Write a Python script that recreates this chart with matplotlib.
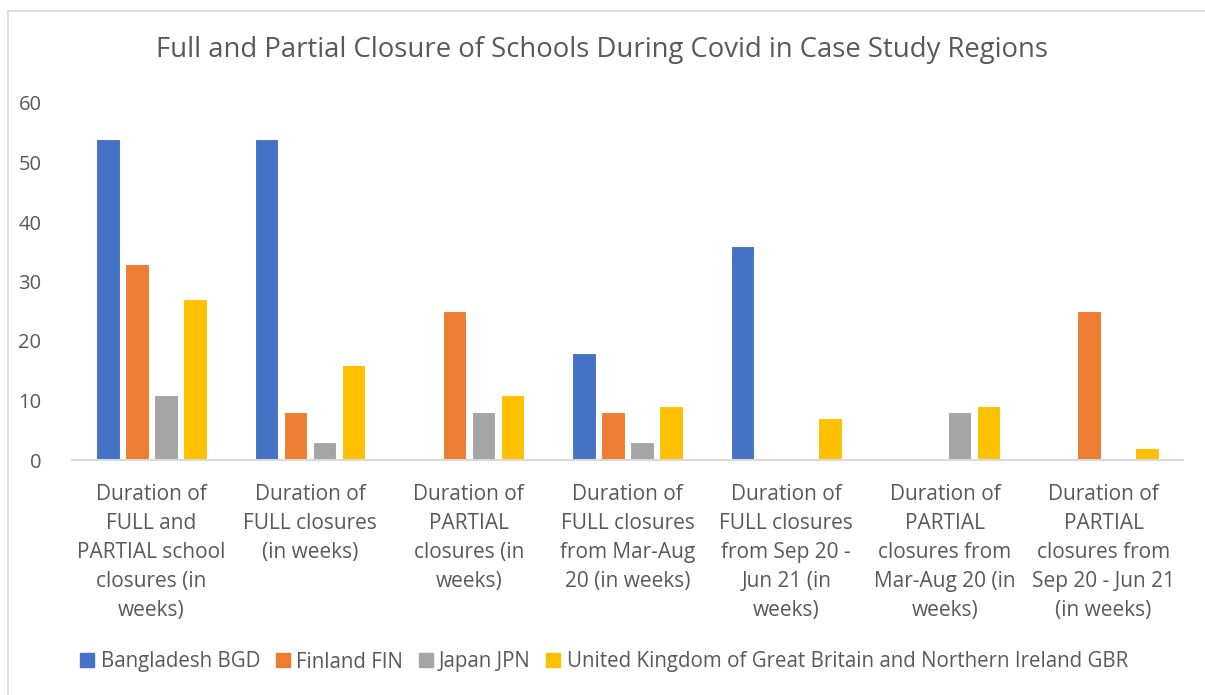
import numpy as np
import matplotlib
matplotlib.use("Agg")
import matplotlib.pyplot as plt
from matplotlib.lines import Line2D

plt.rcParams['font.family'] = ['Open Sans', 'DejaVu Sans']

# data
categories = [
    "Duration of\nFULL and\nPARTIAL school\nclosures (in\nweeks)",
    "Duration of\nFULL closures\n(in weeks)",
    "Duration of\nPARTIAL\nclosures (in\nweeks)",
    "Duration of\nFULL closures\nfrom Mar-Aug\n20 (in weeks)",
    "Duration of\nFULL closures\nfrom Sep 20 -\nJun 21 (in\nweeks)",
    "Duration of\nPARTIAL\nclosures from\nMar-Aug 20 (in\nweeks)",
    "Duration of\nPARTIAL\nclosures from\nSep 20 - Jun 21\n(in weeks)",
]
series_names = ["Bangladesh BGD", "Finland FIN", "Japan JPN",
                "United Kingdom of Great Britain and Northern Ireland GBR"]
bgd = [54, 54, 0, 18, 36, 0, 0]
fin = [33, 8, 25, 8, 0, 0, 25]
jpn = [11, 3, 8, 3, 0, 8, 0]
gbr = [27, 16, 11, 9, 7, 9, 2]
colors = ["#4472C4", "#ED7D31", "#A5A5A5", "#FFC000"]

W, H = 1205, 695
fig = plt.figure(figsize=(W / 100, H / 100), dpi=100)
ax = fig.add_axes([72 / W, 1 - 460 / H, (1183 - 72) / W, (460 - 103) / H])

x = np.arange(len(categories))
pitch = 0.183
width = 0.148
for i, (vals, c) in enumerate(zip([bgd, fin, jpn, gbr], colors)):
    ax.bar(x + (i - 1.5) * pitch, vals, width, color=c,
           edgecolor="white", linewidth=0.8, zorder=2)

ax.set_xlim(-0.5, len(categories) - 0.5)
ax.set_ylim(0, 60)
ax.set_yticks(range(0, 61, 10))
ax.tick_params(axis="y", length=0, labelsize=14.5, labelcolor="#595959", pad=22)
ax.tick_params(axis="x", length=0)
ax.set_xticks(x)
ax.set_xticklabels([])
for s in ["top", "right", "left"]:
    ax.spines[s].set_visible(False)
ax.spines["bottom"].set_color("#D9D9D9")
ax.spines["bottom"].set_linewidth(1.5)

# category labels
for xi, lab in zip(x, categories):
    ax.annotate(lab, (xi, 0), xycoords=("data", "axes fraction"),
                xytext=(0, -24), textcoords="offset pixels",
                ha="center", va="top", fontsize=15, color="#595959",
                linespacing=1.5)

fig.text(0.5, 1 - 50 / H,
         "Full and Partial Closure of Schools During Covid in Case Study Regions",
         ha="center", va="center", fontsize=19.8, color="#595959")

handles = [Line2D([], [], marker="s", linestyle="none", markersize=10,
                  markerfacecolor=c, markeredgecolor=c) for c in colors]
fig.legend(handles, series_names, loc="center", bbox_to_anchor=(0.5, 1 - 662 / H),
           ncol=4, frameon=False, fontsize=14.8, labelcolor="#595959",
           handletextpad=0.15, columnspacing=0.6, handlelength=1.0)

# chart border (top and left visible)
fig.add_artist(Line2D([8 / W, 8 / W], [0, 1 - 11 / H], transform=fig.transFigure,
                      color="#D9D9D9", linewidth=1.2))
fig.add_artist(Line2D([8 / W, 1], [1 - 11 / H, 1 - 11 / H], transform=fig.transFigure,
                      color="#D9D9D9", linewidth=1.2))

fig.savefig("out.png", dpi=100, facecolor="white")
